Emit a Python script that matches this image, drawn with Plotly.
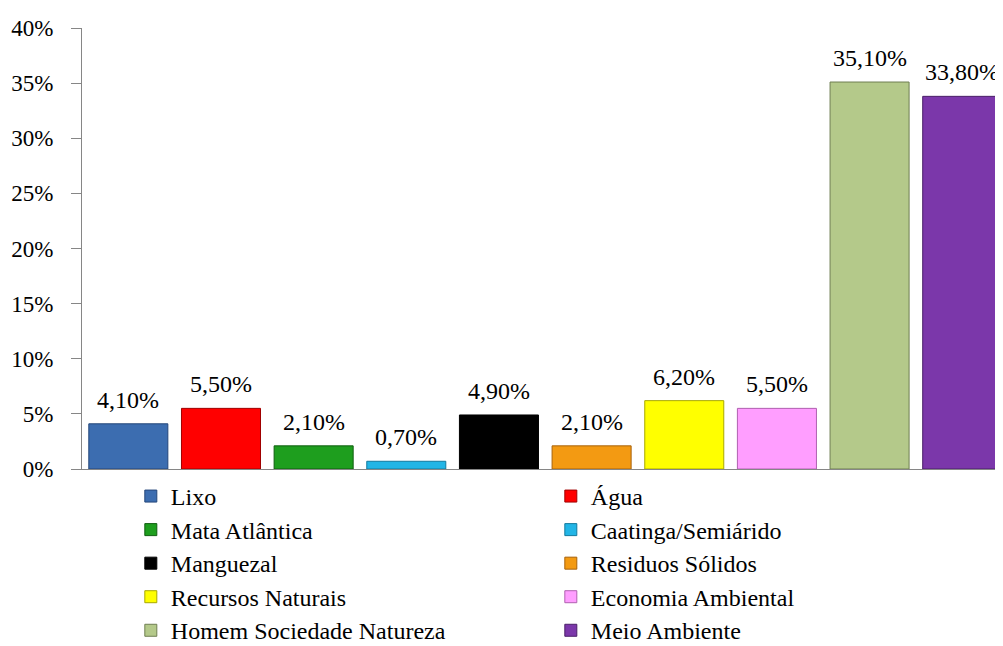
import plotly.graph_objects as go

categories = ["Lixo", "Água", "Mata Atlântica", "Caatinga/Semiárido", "Manguezal",
              "Residuos Sólidos", "Recursos Naturais", "Economia Ambiental",
              "Homem Sociedade Natureza", "Meio Ambiente"]
values = [0.041, 0.055, 0.021, 0.007, 0.049, 0.021, 0.062, 0.055, 0.351, 0.338]
colors = ["#3C6DB0", "#FF0000", "#1E9E1E", "#22B5E6", "#000000",
          "#F39A12", "#FFFF00", "#FF9EFF", "#B4C98A", "#7B37AA"]
outlines = ["#24467A", "#A00000", "#0F5E0F", "#137A9E", "#000000",
            "#A8620A", "#A8A800", "#B060B0", "#6F7F52", "#4A1F68"]

FONT = "Liberation Serif"

fig = go.Figure()
for cat, val, col, oc in zip(categories, values, colors, outlines):
    fig.add_trace(go.Bar(
        x=[cat], y=[val],
        name='<span style="font-size:24px">' + cat + '</span>',
        marker=dict(color=col, line=dict(color=oc, width=1)),
        cliponaxis=False,
    ))
    fig.add_annotation(
        x=cat, y=val, text=f"{val * 100:.2f}%".replace(".", ","),
        showarrow=False, xanchor="center", yanchor="bottom", yshift=9,
        font=dict(family=FONT, size=24, color="#000000"),
    )

fig.update_layout(
    width=995, height=638,
    margin=dict(l=74, r=0, t=20, b=177, autoexpand=False),
    paper_bgcolor="white", plot_bgcolor="white",
    barmode="overlay", bargap=0.147,
    font=dict(family=FONT, size=23, color="#000000"),
    showlegend=True,
    legend=dict(orientation="h", x=0.053, xanchor="left", y=-0.012, yanchor="top",
                entrywidth=375, entrywidthmode="pixels",
                font=dict(family=FONT, size=23.5, color="#000000"),
                itemwidth=30, tracegroupgap=0),
    xaxis=dict(showticklabels=False, showline=True, linecolor="#868686", linewidth=1,
               ticks="", showgrid=False, zeroline=False, range=[-0.5, 9.44]),
    yaxis=dict(range=[0, 0.4], dtick=0.05, tickformat=".0%", showgrid=False,
               showline=True, linecolor="#868686", linewidth=1,
               ticks="outside", ticklen=10, tickcolor="#868686", zeroline=False,
               ticklabelstandoff=13, tickfont=dict(family=FONT, size=23)),
)

fig.write_html("out.html")
